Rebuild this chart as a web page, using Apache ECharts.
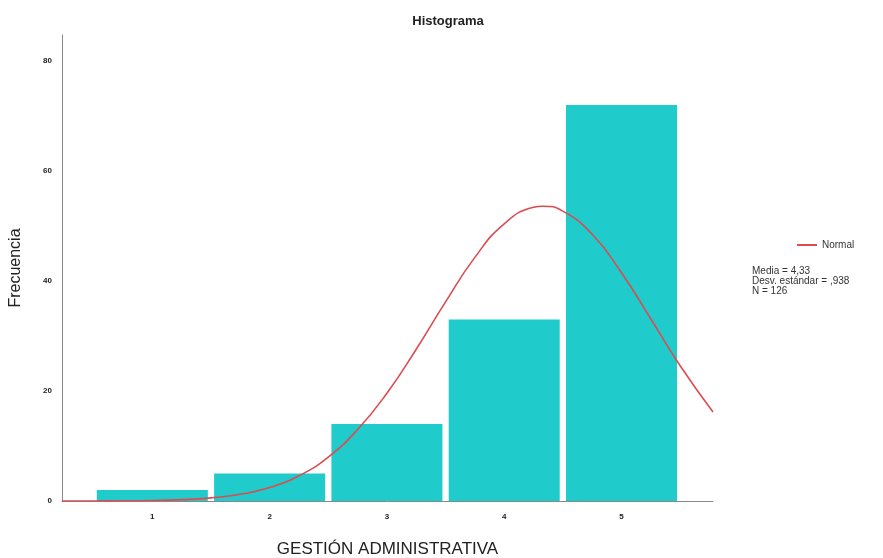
<!DOCTYPE html>
<html><head><meta charset="utf-8">
<script src="https://cdn.jsdelivr.net/npm/echarts@6/dist/echarts.min.js"></script>
<style>html,body{margin:0;padding:0;background:#fff}#c{width:883px;height:558px}</style>
</head><body><div id="c"></div>
<script>
const categories = [1, 2, 3, 4, 5];
const frequencies = [2, 5, 14, 33, 72];
const normalX = [0.23, 0.5, 0.75, 1.0, 1.25, 1.5, 1.75, 2.0, 2.25, 2.5, 2.75, 3.0, 3.25, 3.5, 3.75, 4.0, 4.25, 4.33, 4.5, 4.75, 5.0, 5.25, 5.5, 5.78];
const normalY = [0.004, 0.013, 0.037, 0.098, 0.244, 0.566, 1.22, 2.45, 4.59, 7.99, 13.0, 19.6, 27.6, 36.2, 44.3, 50.4, 53.4, 53.6, 52.7, 48.5, 41.5, 33.1, 24.6, 16.2];
const yTicks = [0, 20, 40, 60, 80];
const statsLines = ['Media = 4,33', 'Desv. estándar = ,938', 'N = 126'];

const chart = echarts.init(document.getElementById('c'));
chart.setOption({
  animation: false,
  backgroundColor: '#fff',
  title: {text: 'Histograma', left: 443, top: 10, textAlign: 'center',
    textStyle: {fontFamily: 'Liberation Sans', fontSize: 13, fontWeight: 'bold', color: '#222'}},
  grid: {left: 62, right: 170, top: 35, bottom: 57, containLabel: false, outerBoundsMode: 'none'},
  legend: {left: 792, top: 235, itemWidth: 20, itemHeight: 10, icon: 'path://M0,4 L20,4 L20,6 L0,6 Z',
    data: [{name: 'Normal', itemStyle: {color: '#dc4b50'}}],
    textStyle: {fontFamily: 'Liberation Sans', fontSize: 10, color: '#333'}, itemGap: 1},
  xAxis: {type: 'value', min: 0.23, max: 5.78,
    name: 'GESTIÓN ADMINISTRATIVA', nameLocation: 'middle', nameGap: 40,
    nameTextStyle: {fontFamily: 'Liberation Sans', fontSize: 17, color: '#222'},
    axisLine: {lineStyle: {color: '#888', width: 1}},
    axisTick: {show: false, customValues: categories},
    axisLabel: {customValues: categories, fontFamily: 'Liberation Sans', fontSize: 8, fontWeight: 'bold', color: '#222', margin: 12},
    splitLine: {show: false}},
  yAxis: {type: 'value', min: 0, max: 84.73, interval: 20,
    name: 'Frecuencia', nameLocation: 'middle', nameGap: 38, nameRotate: 90,
    nameTextStyle: {fontFamily: 'Liberation Sans', fontSize: 16, color: '#222'},
    axisLine: {show: true, lineStyle: {color: '#888', width: 1}},
    axisTick: {show: false},
    axisLabel: {showMaxLabel: false, fontFamily: 'Liberation Sans', fontSize: 8, fontWeight: 'bold', color: '#222', margin: 10,
      formatter: v => yTicks.includes(v) ? String(v) : ''},
    splitLine: {show: false}},
  series: [
    {type: 'bar', name: 'Frecuencia', data: categories.map((c, i) => [c, frequencies[i]]),
      barWidth: 111, itemStyle: {color: '#1fcbcb'}, silent: true},
    {type: 'line', name: 'Normal', data: normalX.map((x, i) => [x, normalY[i]]),
      smooth: true, showSymbol: false, lineStyle: {color: '#dc4b50', width: 1.6}, z: 5}
  ],
  graphic: [{type: 'text', left: 752, top: 266,
    style: {text: statsLines.join('\n'), font: '10px "Liberation Sans"', fill: '#333', lineHeight: 10}}]
});
</script></body></html>
